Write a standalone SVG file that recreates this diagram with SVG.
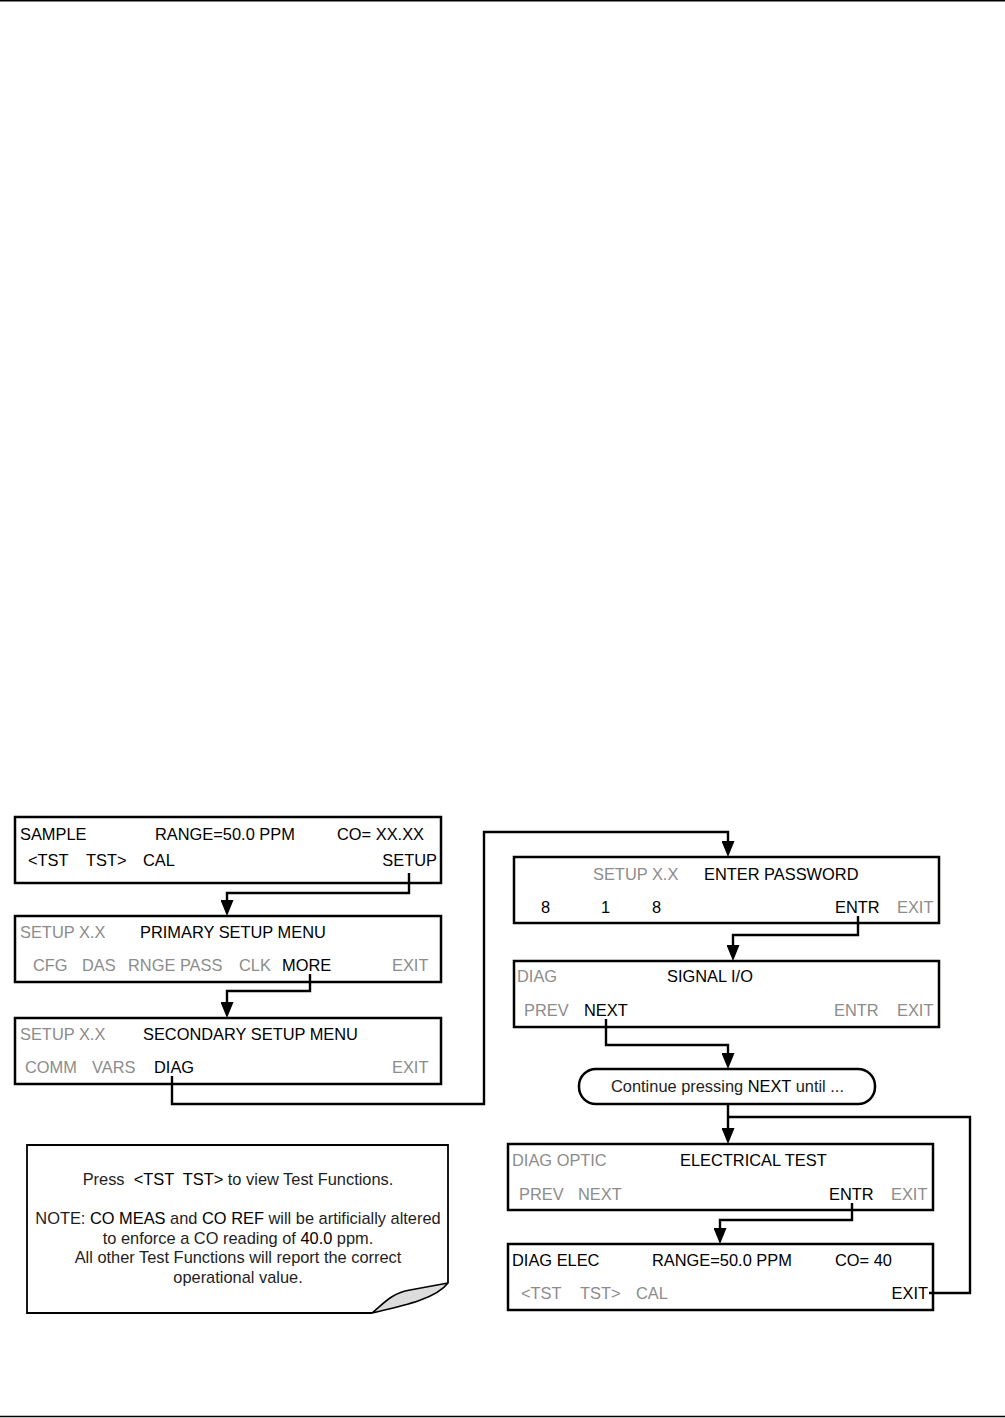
<svg xmlns="http://www.w3.org/2000/svg" width="1005" height="1418" viewBox="0 0 1005 1418">
<style>
text{font-family:"Liberation Sans",Arial,sans-serif;font-size:16.4px;fill:#000}
.g{fill:#8c8c8c}
.d{fill:#1e1e1e}
.box{fill:#fff;stroke:#000;stroke-width:2.5}
.c{fill:none;stroke:#000;stroke-width:2.4;stroke-linejoin:miter}
.a{marker-end:url(#ah)}
</style>
<defs>
<marker id="ah" markerUnits="userSpaceOnUse" markerWidth="16" markerHeight="13" refX="6" refY="6.5" orient="auto" viewBox="0 0 16 13">
<path d="M0,0 L16,6.5 L0,13 z" fill="#000"/>
</marker>
</defs>
<line x1="0" y1="0.75" x2="1005" y2="0.75" stroke="#000" stroke-width="1.5"/>
<line x1="0" y1="1416.5" x2="1005" y2="1416.5" stroke="#000" stroke-width="1.5"/>

<g id="sample">
<rect class="box" x="15" y="817" width="426" height="66"/>
<text x="20" y="840">SAMPLE</text>
<text x="155" y="840">RANGE=50.0 PPM</text>
<text x="337" y="840">CO= XX.XX</text>
<text x="28" y="866">&lt;TST</text>
<text x="86" y="866">TST&gt;</text>
<text x="143" y="866">CAL</text>
<text x="437" y="866" text-anchor="end">SETUP</text>
</g>

<g id="primary">
<rect class="box" x="15" y="916" width="426" height="66"/>
<text class="g" x="20" y="938">SETUP X.X</text>
<text x="140" y="938">PRIMARY SETUP MENU</text>
<text class="g" x="33" y="971">CFG</text>
<text class="g" x="82" y="971">DAS</text>
<text class="g" x="128" y="971">RNGE PASS</text>
<text class="g" x="239" y="971">CLK</text>
<text x="282" y="971">MORE</text>
<text class="g" x="392" y="971">EXIT</text>
</g>

<g id="secondary">
<rect class="box" x="15" y="1018" width="426" height="66"/>
<text class="g" x="20" y="1040">SETUP X.X</text>
<text x="143" y="1040">SECONDARY SETUP MENU</text>
<text class="g" x="25" y="1073">COMM</text>
<text class="g" x="92" y="1073">VARS</text>
<text x="154" y="1073">DIAG</text>
<text class="g" x="392" y="1073">EXIT</text>
</g>

<g id="password">
<rect class="box" x="514" y="857" width="425" height="66"/>
<text class="g" x="593" y="880">SETUP X.X</text>
<text x="704" y="880">ENTER PASSWORD</text>
<text x="541" y="913">8</text>
<text x="601" y="913">1</text>
<text x="652" y="913">8</text>
<text x="835" y="913">ENTR</text>
<text class="g" x="897" y="913">EXIT</text>
</g>

<g id="signal">
<rect class="box" x="514" y="961" width="425" height="66"/>
<text class="g" x="517" y="982">DIAG</text>
<text x="667" y="982">SIGNAL I/O</text>
<text class="g" x="524" y="1016">PREV</text>
<text x="584" y="1016">NEXT</text>
<text class="g" x="834" y="1016">ENTR</text>
<text class="g" x="897" y="1016">EXIT</text>
</g>

<g id="continue">
<rect class="box" x="579" y="1069" width="296" height="35" rx="17" ry="17"/>
<text class="d" x="611" y="1092">Continue pressing <tspan fill="#000">NEXT</tspan> until ...</text>
</g>

<g id="electrical">
<rect class="box" x="508" y="1144" width="425" height="66"/>
<text class="g" x="512" y="1166">DIAG OPTIC</text>
<text x="680" y="1166">ELECTRICAL TEST</text>
<text class="g" x="519" y="1200">PREV</text>
<text class="g" x="578" y="1200">NEXT</text>
<text x="829" y="1200">ENTR</text>
<text class="g" x="891" y="1200">EXIT</text>
</g>

<g id="diagelec">
<rect class="box" x="508" y="1244" width="425" height="66"/>
<text x="512" y="1266">DIAG ELEC</text>
<text x="652" y="1266">RANGE=50.0 PPM</text>
<text x="835" y="1266">CO= 40</text>
<text class="g" x="521" y="1299">&lt;TST</text>
<text class="g" x="580" y="1299">TST&gt;</text>
<text class="g" x="636" y="1299">CAL</text>
<text x="928" y="1299" text-anchor="end">EXIT</text>
</g>

<g id="note">
<path d="M372,1313 H27 V1145 H448 V1283" fill="#fff" stroke="#000" stroke-width="1.8"/>
<path d="M448,1283 C436,1299 402,1306 372,1313 C384,1303 392,1293 410,1290 Z" fill="#dcdcdc" stroke="#000" stroke-width="1.6" stroke-linejoin="round"/>
<text class="d" x="238" y="1185" text-anchor="middle" xml:space="preserve">Press  <tspan fill="#000">&lt;TST  TST&gt;</tspan> to view Test Functions.</text>
<text class="d" x="238" y="1224" text-anchor="middle">NOTE: <tspan fill="#000">CO MEAS</tspan> and <tspan fill="#000">CO REF</tspan> will be artificially altered</text>
<text class="d" x="238" y="1244" text-anchor="middle">to enforce a CO reading of <tspan fill="#000">40.0</tspan> ppm.</text>
<text class="d" x="238" y="1263" text-anchor="middle">All other Test Functions will report the correct</text>
<text class="d" x="238" y="1283" text-anchor="middle">operational value.</text>
</g>

<g id="connectors">
<path class="c a" d="M409,873 V893 H227 V906"/>
<path class="c a" d="M310,974 V991 H227 V1008"/>
<path class="c a" d="M172,1076 V1104 H484 V832 H728 V847"/>
<path class="c a" d="M858,916 V935 H733 V951"/>
<path class="c a" d="M606,1019 V1045 H728 V1059"/>
<path class="c a" d="M728,1104 V1134"/>
<path class="c" d="M929,1293 H970 V1117 H728"/>
<path class="c a" d="M852,1203 V1220 H720 V1234"/>
</g>
</svg>
